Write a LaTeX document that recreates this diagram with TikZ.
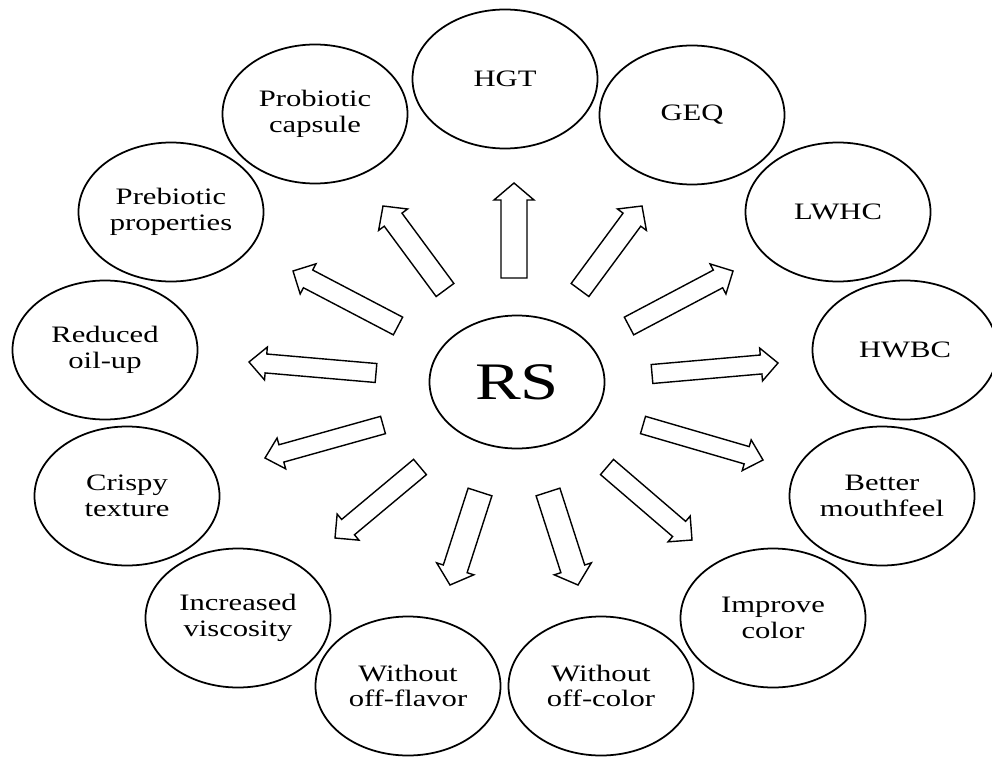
\documentclass[tikz,border=0pt]{standalone}
\usepackage{fontspec}
\setmainfont[FakeStretch=1.3]{Liberation Serif}
\usetikzlibrary{shapes.geometric,calc}

\begin{document}
\begin{tikzpicture}[
  x=0.2mm,y=-0.2mm,
  effect/.style={ellipse,draw,line width=1pt,minimum width=37mm,minimum height=27.8mm,
                 inner sep=0pt,align=center,font=\fontsize{13.4}{14.6}\selectfont},
  hub/.style={ellipse,draw,line width=1pt,minimum width=35mm,minimum height=26.6mm,
              inner sep=0pt,font=\fontsize{30}{36}\selectfont},
  blockarrow/.style={draw,fill=white,line width=0.8pt,line join=miter},
]
\useasboundingbox (0,0) rectangle (992,756);

% centre
\node[hub] (rs) at (517,382) {RS};

% ring of effects, clockwise from the top
\node[effect] (hgt)       at (505,79)  {HGT};
\node[effect] (geq)       at (692,115) {GEQ};
\node[effect] (lwhc)      at (838,212) {LWHC};
\node[effect] (hwbc)      at (905,350) {HWBC};
\node[effect] (mouth)     at (882,496) {Better\\mouthfeel};
\node[effect] (improve)   at (773,618) {Improve\\color};
\node[effect] (offcolor)  at (601,686) {Without\\off-color};
\node[effect] (offflavor) at (408,686) {Without\\off-flavor};
\node[effect] (viscous)   at (238,618) {Increased\\viscosity};
\node[effect] (crispy)    at (127,496) {Crispy\\texture};
\node[effect] (oilup)     at (105,350) {Reduced\\oil-up};
\node[effect] (prebio)    at (171,212) {Prebiotic\\properties};
\node[effect] (probio)    at (315,114) {Probiotic\\capsule};

% hollow arrows pointing out of RS (tail / tip / shaft width)
\foreach \n/\tx/\ty/\px/\py/\w in {hgt/514/278/514/183/26, geq/580/290/642/206/22,
    lwhc/629/326/733/271/20, hwbc/652/374/778/363/19, mouth/643/425/763/460/18,
    improve/607/467/692/540/20, offcolor/548/492/578/585/25, offflavor/480/492/450/585/25,
    viscous/420/467/335/538/20, crispy/383/425/265/458/18, oilup/376/373/249/362/19,
    prebio/398/326/293/271/20, probio/445/290/383/206/22}{
  \coordinate (\n-tail) at (\tx,\ty);
  \coordinate (\n-tip)  at (\px,\py);
  \coordinate (\n-neck) at ($(\n-tip)!3.4mm!(\n-tail)$);
  \pgfmathsetmacro\shaft{\w*0.1}
  \pgfmathsetmacro\barb{(\w+14)*0.1}
  \draw[blockarrow] ($(\n-tail)!\shaft mm!90:(\n-tip)$)
    -- ($(\n-neck)!\shaft mm!90:(\n-tip)$) -- ($(\n-neck)!\barb mm!90:(\n-tip)$)
    -- (\n-tip)
    -- ($(\n-neck)!\barb mm!-90:(\n-tip)$) -- ($(\n-neck)!\shaft mm!-90:(\n-tip)$)
    -- ($(\n-tail)!\shaft mm!-90:(\n-tip)$) -- cycle;
}

\end{tikzpicture}
\end{document}
